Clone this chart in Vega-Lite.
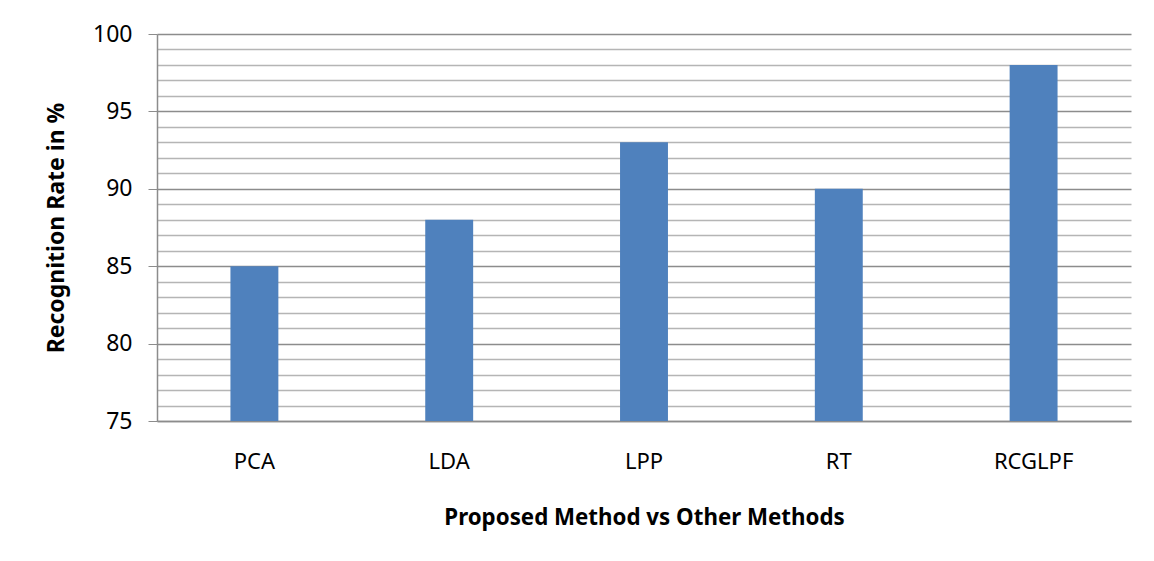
{
  "$schema": "https://vega.github.io/schema/vega-lite/v6.json",
  "width": 974,
  "height": 387,
  "autosize": {"type": "none"},
  "padding": {"left": 157, "top": 34, "right": 23, "bottom": 140},
  "background": "white",
  "config": {
    "view": {"stroke": null},
    "font": "Noto Sans"
  },
  "data": {
    "values": [
      {"method": "PCA", "rate": 85},
      {"method": "LDA", "rate": 88},
      {"method": "LPP", "rate": 93},
      {"method": "RT", "rate": 90},
      {"method": "RCGLPF", "rate": 98}
    ]
  },
  "mark": {"type": "bar", "color": "#4F81BD", "clip": true},
  "encoding": {
    "x": {
      "field": "method",
      "type": "nominal",
      "sort": null,
      "scale": {"paddingInner": 0.754, "paddingOuter": 0.377},
      "axis": {
        "title": "Proposed Method vs Other Methods",
        "titleFontSize": 22.3,
        "titleFontWeight": "bold",
        "titleColor": "#000000",
        "titlePadding": 34,
        "labelAngle": 0,
        "labelFontSize": 22,
        "labelColor": "#000000",
        "labelPadding": 30,
        "ticks": false,
        "domainColor": "#8c8c8c",
        "domainWidth": 1.5,
        "grid": false
      }
    },
    "y": {
      "field": "rate",
      "type": "quantitative",
      "scale": {"domain": [75, 100], "zero": false, "nice": false},
      "axis": {
        "title": "Recognition Rate in %",
        "titleFontSize": 23,
        "titleFontWeight": "bold",
        "titleColor": "#000000",
        "titlePadding": 24,
        "values": [75,76,77,78,79,80,81,82,83,84,85,86,87,88,89,90,91,92,93,94,95,96,97,98,99,100],
        "labelExpr": "datum.value % 5 === 0 ? datum.label : ''",
        "labelFontSize": 23,
        "labelColor": "#000000",
        "labelPadding": 16,
        "tickSize": 9,
        "tickColor": "#8c8c8c",
        "tickOpacity": {"condition": {"test": "datum.value % 5 === 0", "value": 1}, "value": 0},
        "domainColor": "#8c8c8c",
        "domainWidth": 1.5,
        "grid": true,
        "gridColor": {"condition": {"test": "datum.value % 5 === 0", "value": "#8c8c8c"}, "value": "#b5b5b5"},
        "gridWidth": 1.3
      }
    }
  }
}
